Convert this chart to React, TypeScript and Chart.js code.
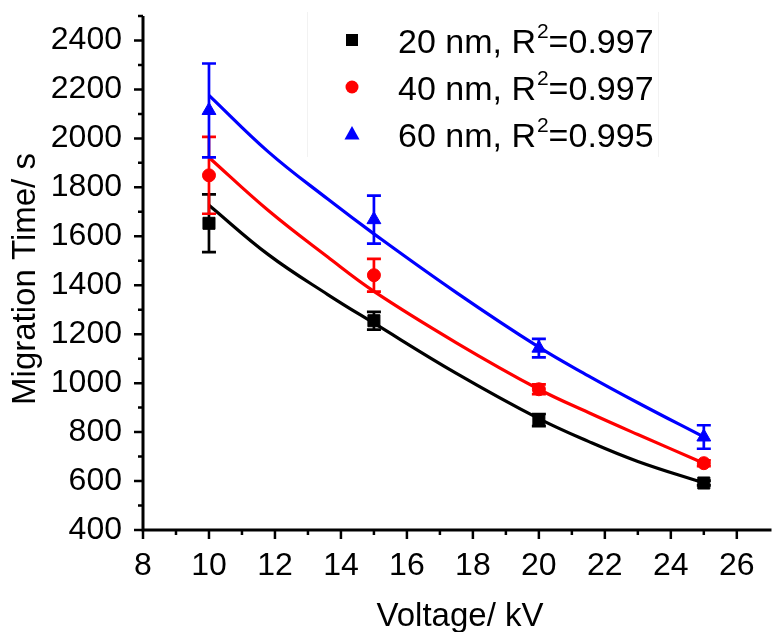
import React, { useEffect, useRef } from 'react';
import { Chart, registerables } from 'chart.js';
Chart.register(...registerables);

// ---- data ----
const voltages = [10, 15, 20, 25];
const time20 = [1653, 1255, 849, 592];
const err20 = [118, 36, 25, 10];
const time40 = [1849, 1441, 975, 673];
const err40 = [157, 67, 20, 12];
const time60 = [2114, 1668, 1143, 780];
const err60 = [192, 98, 38, 48];

const fitX = [10, 11.8, 13.6, 15, 17.5, 20, 21.5, 23, 25];
const fit20 = [1727, 1525, 1362, 1245, 1040, 855, 762, 680, 592];
const fit40 = [1922, 1705, 1515, 1375, 1165, 975, 880, 790, 673];
const fit60 = [2176, 1945, 1752, 1610, 1370, 1147, 1030, 920, 780];

const seriesNames = ['20 nm', '40 nm', '60 nm'];
const r2Values = ['0.997', '0.997', '0.995'];
const seriesColors = ['#000000', '#ff0000', '#0000ff'];
const xTitle = 'Voltage/ kV';
const yTitle = 'Migration Time/ s';

const FONT = '"Liberation Sans", Arial, sans-serif';

export default function App() {
  const ref = useRef<HTMLCanvasElement | null>(null);

  useEffect(() => {
    const canvas = ref.current;
    if (!canvas) return;
    const means = [time20, time40, time60];
    const errs = [err20, err40, err60];
    const fits = [fit20, fit40, fit60];
    const styles: any[] = ['rect', 'circle', 'triangle'];
    const radii = [8.5, 6.5, 8];

    const lineSets = fits.map((f, i) => ({
      type: 'line',
      label: seriesNames[i] + ' fit',
      data: fitX.map((x, k) => ({ x, y: f[k] })),
      borderColor: seriesColors[i],
      borderWidth: 3.2,
      pointRadius: 0,
      fill: false,
      tension: 0.4,
      order: 2,
    }));
    const pointSets = means.map((m, i) => ({
      type: 'line',
      label: seriesNames[i],
      data: voltages.map((x, k) => ({ x, y: m[k] })),
      showLine: false,
      pointStyle: styles[i],
      pointRadius: radii[i],
      pointBackgroundColor: seriesColors[i],
      pointBorderColor: seriesColors[i],
      pointBorderWidth: 1,
      order: 1,
    }));

    const customPlugin = {
      id: 'custom',
      afterDatasetsDraw(chart: any) {
        const ctx = chart.ctx;
        const xs = chart.scales.x;
        const ys = chart.scales.y;
        ctx.save();
        ctx.lineWidth = 2.7;
        means.forEach((m, i) => {
          ctx.strokeStyle = seriesColors[i];
          voltages.forEach((v, k) => {
            const px = xs.getPixelForValue(v);
            const top = ys.getPixelForValue(m[k] + errs[i][k]);
            const bot = ys.getPixelForValue(m[k] - errs[i][k]);
            ctx.beginPath();
            ctx.moveTo(px, top);
            ctx.lineTo(px, bot);
            ctx.moveTo(px - 7, top);
            ctx.lineTo(px + 7, top);
            ctx.moveTo(px - 7, bot);
            ctx.lineTo(px + 7, bot);
            ctx.stroke();
          });
        });
        ctx.restore();
      },
      afterDraw(chart: any) {
        const ctx = chart.ctx;
        const xs = chart.scales.x;
        const ys = chart.scales.y;
        const area = chart.chartArea;
        ctx.save();
        ctx.strokeStyle = '#000';
        ctx.lineWidth = 3;
        ctx.beginPath();
        ctx.moveTo(area.left, area.top);
        ctx.lineTo(area.left, area.bottom);
        ctx.lineTo(area.right + 5, area.bottom);
        ctx.stroke();
        ctx.lineWidth = 2.5;
        ctx.beginPath();
        for (let v = 400; v <= 2500; v += 100) {
          const py = ys.getPixelForValue(v);
          const len = v % 200 === 0 ? 9 : 5;
          ctx.moveTo(area.left, py);
          ctx.lineTo(area.left - len, py);
        }
        for (let v = 8; v <= 26.9; v += 1) {
          const px = xs.getPixelForValue(v);
          const len = v % 2 === 0 ? 9 : 5;
          ctx.moveTo(px, area.bottom);
          ctx.lineTo(px, area.bottom + len);
        }
        ctx.stroke();

        ctx.fillStyle = '#000';
        ctx.font = `33px ${FONT}`;
        ctx.textAlign = 'center';
        ctx.textBaseline = 'middle';
        ctx.fillText(xTitle, 460, 617);
        ctx.save();
        ctx.translate(26, 279);
        ctx.rotate(-Math.PI / 2);
        ctx.fillText(yTitle, 0, 0);
        ctx.restore();

        ctx.strokeStyle = '#f2f2f2';
        ctx.lineWidth = 1;
        ctx.beginPath();
        ctx.moveTo(307.5, 12);
        ctx.lineTo(307.5, 157);
        ctx.moveTo(658.5, 12);
        ctx.lineTo(658.5, 157);
        ctx.stroke();

        const rowY = [40, 87, 134];
        seriesNames.forEach((name, i) => {
          const cy = rowY[i];
          const mx = 352;
          ctx.fillStyle = seriesColors[i];
          ctx.beginPath();
          if (i === 0) {
            ctx.rect(mx - 6, cy - 6, 12, 12);
          } else if (i === 1) {
            ctx.arc(mx, cy, 6.5, 0, Math.PI * 2);
          } else {
            ctx.moveTo(mx, cy - 8);
            ctx.lineTo(mx + 7.5, cy + 5.5);
            ctx.lineTo(mx - 7.5, cy + 5.5);
            ctx.closePath();
          }
          ctx.fill();

          ctx.fillStyle = '#000';
          ctx.textAlign = 'left';
          ctx.textBaseline = 'alphabetic';
          const base = cy + 12.5;
          let x = 398;
          ctx.font = `34px ${FONT}`;
          const t1 = name + ', R';
          ctx.fillText(t1, x, base);
          x += ctx.measureText(t1).width;
          ctx.font = `21px ${FONT}`;
          ctx.fillText('2', x + 1, base - 15);
          x += ctx.measureText('2').width + 1;
          ctx.font = `34px ${FONT}`;
          ctx.fillText('=' + r2Values[i], x, base);
        });
        ctx.restore();
      },
    };

    const chart = new Chart(canvas, {
      type: 'line',
      data: { datasets: [...lineSets, ...pointSets] as any },
      options: {
        animation: false,
        responsive: false,
        devicePixelRatio: 1,
        layout: { padding: { top: 16, right: 0, left: 0, bottom: 0 } },
        plugins: { legend: { display: false }, tooltip: { enabled: false } },
        scales: {
          x: {
            type: 'linear',
            min: 8,
            max: 26.9,
            grid: { display: false, drawTicks: false },
            border: { display: false },
            ticks: {
              stepSize: 2,
              includeBounds: false,
              autoSkip: false,
              maxRotation: 0,
              color: '#000',
              padding: 17,
              font: { family: FONT, size: 32 },
              callback: (v: any) => String(v),
            },
            afterFit: (s: any) => { s.height = 102; s.paddingLeft = 0; s.paddingRight = 0; },
          },
          y: {
            type: 'linear',
            min: 400,
            max: 2500,
            grid: { display: false, drawTicks: false },
            border: { display: false },
            ticks: {
              stepSize: 200,
              includeBounds: false,
              autoSkip: false,
              color: '#000',
              padding: 21,
              font: { family: FONT, size: 32 },
              callback: (v: any) => String(v),
            },
            afterFit: (s: any) => { s.width = 143; s.paddingTop = 0; s.paddingBottom = 0; },
          },
        },
      } as any,
      plugins: [customPlugin],
    });
    return () => chart.destroy();
  }, []);

  return (
    <div style={{ position: 'absolute', left: 0, top: 0, width: 776, height: 632, background: '#fff' }}>
      <canvas ref={ref} width={776} height={632} style={{ display: 'block' }} />
    </div>
  );
}
